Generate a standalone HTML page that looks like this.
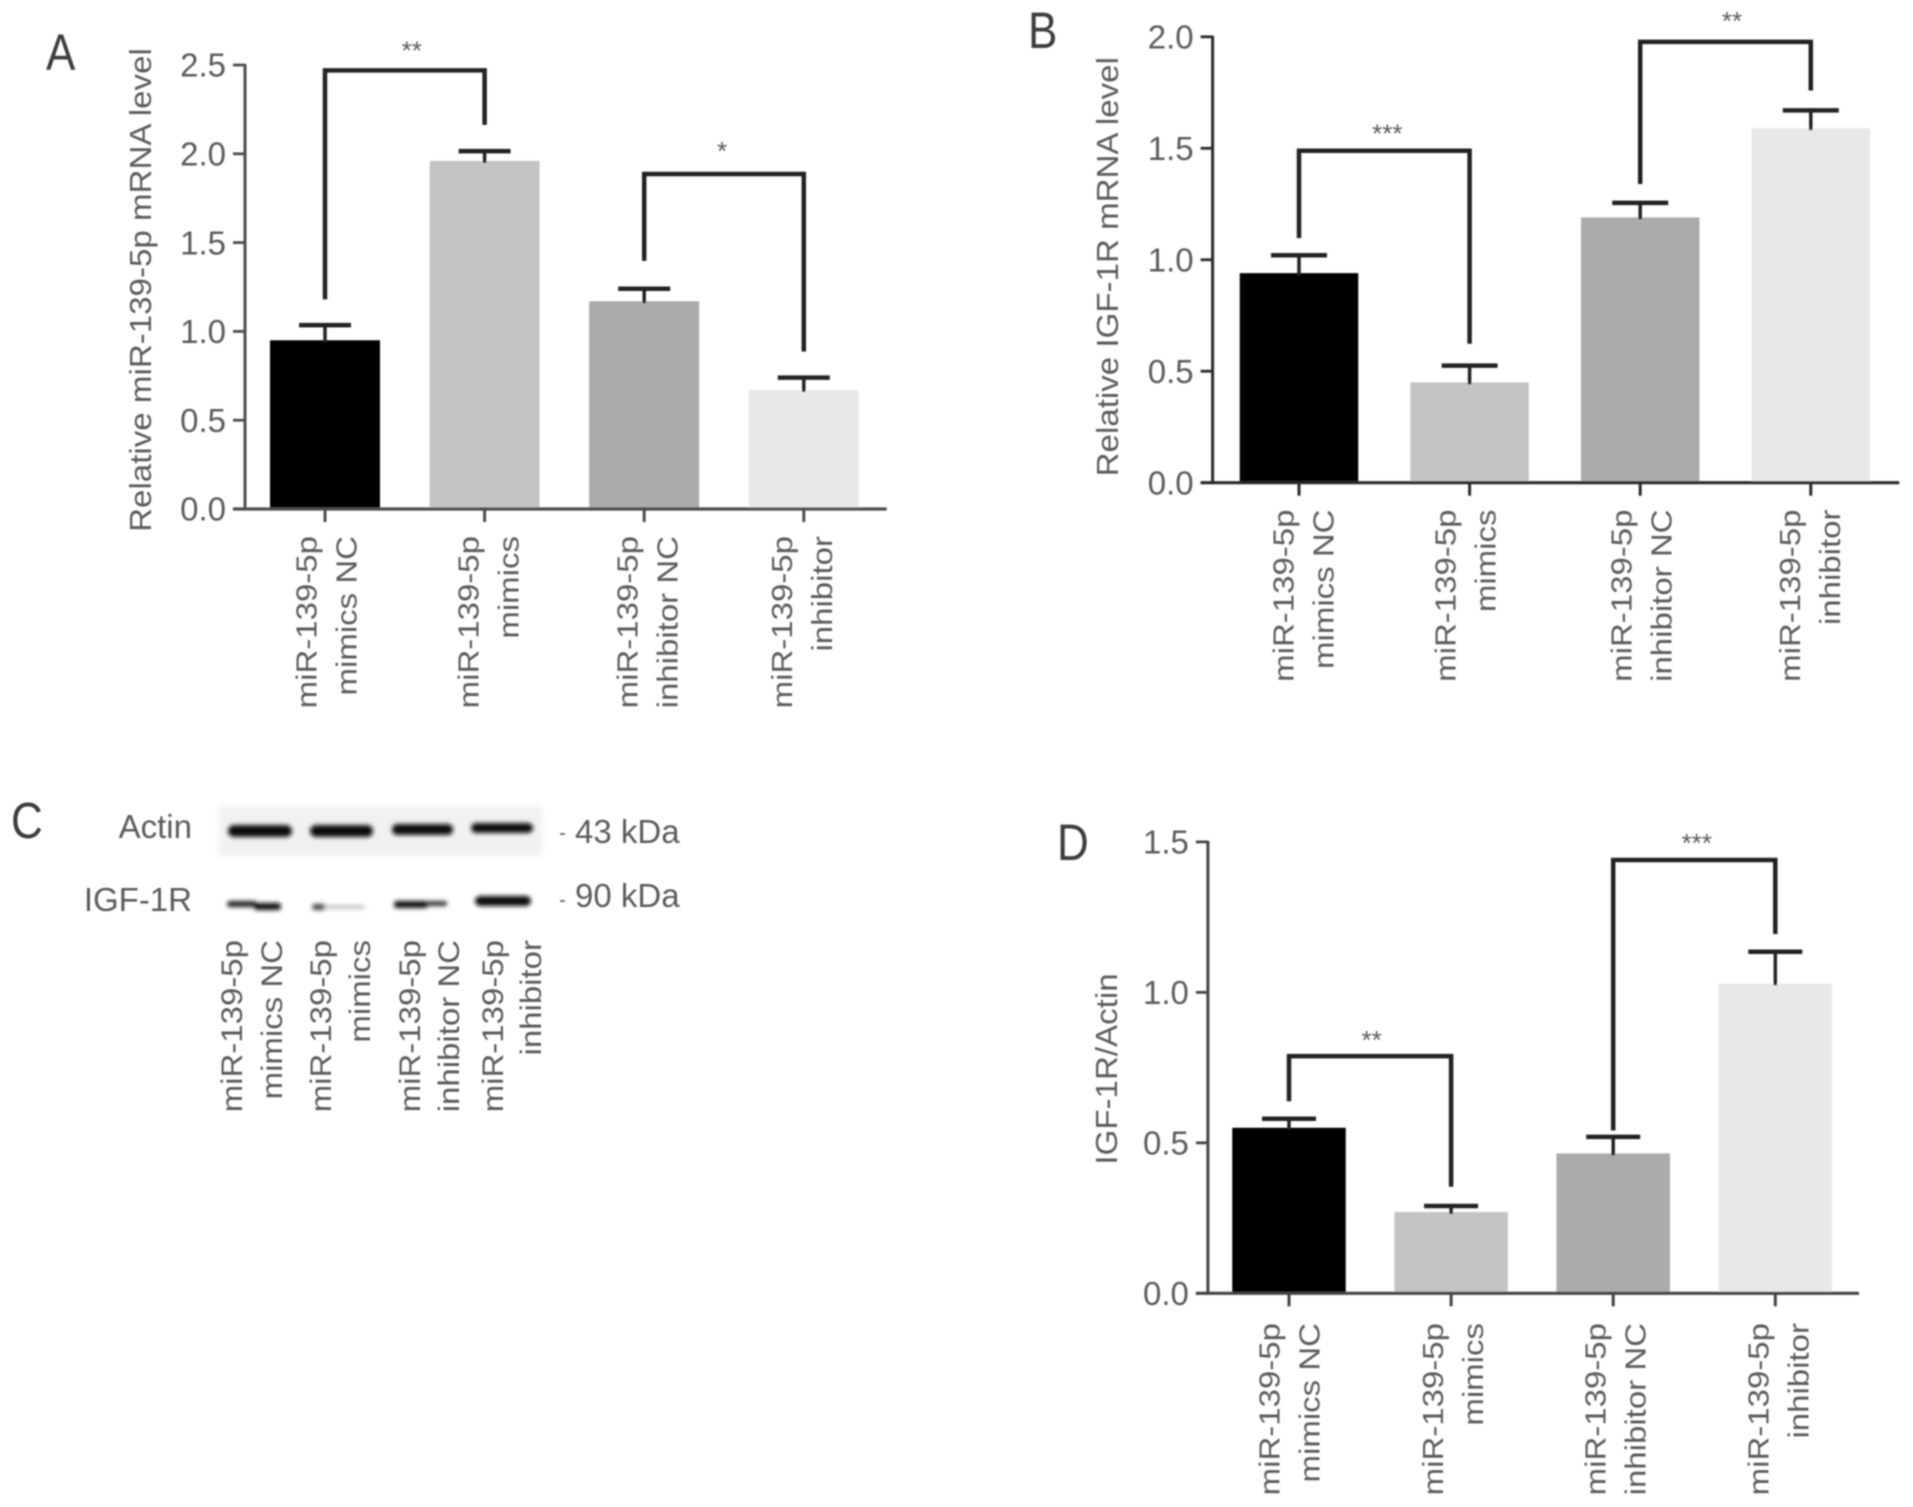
<!DOCTYPE html>
<html lang="en">
<head>
<meta charset="utf-8">
<title>miR-139-5p and IGF-1R expression</title>
<style>
html,body{margin:0;padding:0;background:#fff;}
body{width:1913px;height:1507px;overflow:hidden;}
svg{display:block;}
text{font-family:"Liberation Sans",sans-serif;fill:#5c5c5c;}
.letter{font-size:44px;fill:#3c3c3c;}
.blot-text{font-size:33px;}
.kda{font-size:33px;}
.lane{font-size:33px;}
</style>
</head>
<body>
<svg id="figure" xmlns="http://www.w3.org/2000/svg" width="1913" height="1507" viewBox="0 0 1913 1507">
  <defs>
    <filter id="soft" filterUnits="userSpaceOnUse" x="0" y="0" width="1913" height="1507"><feGaussianBlur stdDeviation="0.8"/></filter>
    <filter id="bandblur" filterUnits="userSpaceOnUse" x="0" y="780" width="720" height="200"><feGaussianBlur stdDeviation="2.2"/></filter>
    <filter id="gelblur" filterUnits="userSpaceOnUse" x="0" y="780" width="720" height="200"><feGaussianBlur stdDeviation="3"/></filter>
  </defs>
  <g id="root" filter="url(#soft)">
    <text class="letter" transform="translate(46,70) scale(1,1.15)">A</text>
    <text class="letter" transform="translate(1028,48) scale(1,1.15)">B</text>
    <text class="letter" transform="translate(11,838) scale(1,1.15)">C</text>
    <text class="letter" transform="translate(1057,860) scale(1,1.15)">D</text>

    <g>
      <rect x="219" y="806" width="323" height="50" fill="#f1f1f1" filter="url(#gelblur)"/>
      <g filter="url(#bandblur)" fill="#0a0a0a">
        <rect x="228" y="825" width="64" height="12" rx="6"/>
        <rect x="310" y="825" width="63" height="12" rx="6"/>
        <rect x="392" y="824" width="61" height="11" rx="5"/>
        <rect x="471" y="823" width="62" height="10" rx="5"/>
      </g>
      <g filter="url(#bandblur)" fill="#0a0a0a">
        <rect x="227" y="901" width="30" height="6" rx="3" fill="#222"/>
        <rect x="254" y="903" width="27" height="7" rx="3"/>
        <rect x="312" y="904" width="14" height="6" rx="3" fill="#444"/>
        <rect x="324" y="905" width="41" height="4" rx="2" fill="#c4c4c4"/>
        <rect x="394" y="901" width="34" height="7" rx="3"/>
        <rect x="426" y="901" width="21" height="5" rx="2" fill="#333"/>
        <rect x="475" y="896" width="56" height="10" rx="5"/>
      </g>
      <text class="blot-text" x="192" y="838" text-anchor="end">Actin</text>
      <text class="blot-text" x="192" y="911" text-anchor="end">IGF-1R</text>
      <rect x="560" y="833" width="5" height="2" fill="#777"/>
      <rect x="560" y="900" width="5" height="2" fill="#777"/>
      <text class="kda" x="575" y="843">43 kDa</text>
      <text class="kda" x="575" y="907">90 kDa</text>
      <g>
        <text class="lane" transform="translate(242,940) rotate(-90) scale(1,0.9)" text-anchor="end">miR-139-5p</text>
        <text class="lane" transform="translate(282,940) rotate(-90) scale(1,0.9)" text-anchor="end">mimics NC</text>
        <text class="lane" transform="translate(331,940) rotate(-90) scale(1,0.9)" text-anchor="end">miR-139-5p</text>
        <text class="lane" transform="translate(370,940) rotate(-90) scale(1,0.9)" text-anchor="end">mimics</text>
        <text class="lane" transform="translate(420,940) rotate(-90) scale(1,0.9)" text-anchor="end">miR-139-5p</text>
        <text class="lane" transform="translate(459,940) rotate(-90) scale(1,0.9)" text-anchor="end">inhibitor NC</text>
        <text class="lane" transform="translate(503,940) rotate(-90) scale(1,0.9)" text-anchor="end">miR-139-5p</text>
        <text class="lane" transform="translate(541,940) rotate(-90) scale(1,0.9)" text-anchor="end">inhibitor</text>
      </g>
    </g>
  </g>
</svg>
<script>
var categoryLine1 = ['miR-139-5p', 'miR-139-5p', 'miR-139-5p', 'miR-139-5p'];
var categoryLine2 = ['mimics NC', 'mimics', 'inhibitor NC', 'inhibitor'];
var barColors = ['#000000', '#c4c4c4', '#ababab', '#e8e8e8'];

var aValues = [0.95, 1.96, 1.17, 0.67];
var aErrors = [0.085, 0.055, 0.07, 0.07];
var aTicks = ['0.0', '0.5', '1.0', '1.5', '2.0', '2.5'];
var aBracketFrom = [0, 2];
var aBracketTo = [1, 3];
var aBracketTop = [2.47, 1.886];
var aBracketLeftEnd = [1.18, 1.397];
var aBracketRightEnd = [2.163, 0.887];
var aBracketStars = ['**', '*'];

var bValues = [0.94, 0.45, 1.19, 1.59];
var bErrors = [0.08, 0.075, 0.065, 0.08];
var bTicks = ['0.0', '0.5', '1.0', '1.5', '2.0'];
var bBracketFrom = [0, 2];
var bBracketTo = [1, 3];
var bBracketTop = [1.489, 1.977];
var bBracketLeftEnd = [1.097, 1.34];
var bBracketRightEnd = [0.623, 1.759];
var bBracketStars = ['***', '**'];

var dValues = [0.55, 0.27, 0.465, 1.03];
var dErrors = [0.03, 0.02, 0.055, 0.105];
var dTicks = ['0.0', '0.5', '1.0', '1.5'];
var dBracketFrom = [0, 2];
var dBracketTo = [1, 3];
var dBracketTop = [0.788, 1.44];
var dBracketLeftEnd = [0.638, 0.541];
var dBracketRightEnd = [0.354, 1.194];
var dBracketStars = ['**', '***'];

var NS = 'http://www.w3.org/2000/svg';
var root = document.getElementById('root');

function make(tag, parent, attrs, content) {
  var node = document.createElementNS(NS, tag);
  for (var k in attrs) { node.setAttribute(k, attrs[k]); }
  if (content !== undefined) { node.textContent = content; }
  parent.appendChild(node);
  return node;
}

function drawPanel(p) {
  var inkColor = '#222';
  var tickMax = parseFloat(p.ticks[p.ticks.length - 1]);
  function yScale(v) { return p.y0 - (p.y0 - p.yTop) * v / tickMax; }
  function xScale(i) { return p.c0 + i * p.step; }
  var el;

  var g = make('g', root, {});
  
  

  p.values.forEach(function (v, i) {
    el = make('rect', g, { x: xScale(i) - p.barWidth / 2, y: yScale(v), width: p.barWidth, height: p.y0 - yScale(v), fill: barColors[i] });
    
    

    var top = yScale(v + p.errors[i]);
    el = make('line', g, { x1: xScale(i), x2: xScale(i), y1: top, y2: yScale(v) + 2, stroke: inkColor, 'stroke-width': 3.5 });
    
    

    el = make('line', g, { x1: xScale(i) - p.capHalf, x2: xScale(i) + p.capHalf, y1: top, y2: top, stroke: inkColor, 'stroke-width': 4.5 });
    
    
  });

  el = make('line', g, { x1: p.axisX, x2: p.axisX, y1: p.yTop - 1, y2: p.y0 + 1, stroke: p.axisColor, 'stroke-width': 3 });
  
  

  el = make('line', g, { x1: p.axisX - 12, x2: p.xEnd, y1: p.y0, y2: p.y0, stroke: p.axisColor, 'stroke-width': 3.2 });
  
  

  p.ticks.forEach(function (label) {
    var ty = yScale(parseFloat(label));
    el = make('line', g, { x1: p.axisX - 12, x2: p.axisX, y1: ty, y2: ty, stroke: p.axisColor, 'stroke-width': 2.8 });
    
    

    el = make('text', g, { x: p.axisX - 19, y: ty + 11.7, 'text-anchor': 'end', 'font-size': 33 }, label);
    
    
  });

  categoryLine1.forEach(function (line1, i) {
    var cx = xScale(i);
    var baseline = cx + p.labelShift[i];
    el = make('line', g, { x1: cx, x2: cx, y1: p.y0, y2: p.y0 + 13, stroke: p.axisColor, 'stroke-width': 3 });
    
    

    el = make('text', g, { transform: 'translate(' + baseline + ',' + p.labelTop + ') rotate(-90) scale(1,0.88)', 'text-anchor': 'end', 'font-size': 33 }, line1);
    
    

    el = make('text', g, { transform: 'translate(' + (baseline + 40) + ',' + p.labelTop + ') rotate(-90) scale(1,0.88)', 'text-anchor': 'end', 'font-size': 33 }, categoryLine2[i]);
    
    
  });

  el = make('text', g, { transform: 'translate(' + p.titleX + ',' + p.titleY + ') rotate(-90) scale(1,0.92)', 'text-anchor': 'middle', 'font-size': 33.1 }, p.title);
  
  

  p.bracketTop.forEach(function (t, b) {
    var xl = xScale(p.bracketFrom[b]);
    var xr = xScale(p.bracketTo[b]);
    var yt = yScale(t);
    var d = 'M' + xl + ' ' + yScale(p.bracketLeftEnd[b]) + ' L' + xl + ' ' + yt + ' L' + xr + ' ' + yt + ' L' + xr + ' ' + yScale(p.bracketRightEnd[b]);
    el = make('path', g, { d: d, fill: 'none', stroke: inkColor, 'stroke-width': 4.5 });
    
    

    el = make('text', g, { x: (xl + xr) / 2 + p.starShift[b], y: yt - p.starLift[b], 'text-anchor': 'middle', 'font-size': 26 }, p.bracketStars[b]);
    
    
  });
}

drawPanel({
  id: 'a', title: 'Relative miR-139-5p mRNA level', axisColor: '#4e4e4e',
  values: aValues, errors: aErrors, ticks: aTicks,
  bracketFrom: aBracketFrom, bracketTo: aBracketTo, bracketTop: aBracketTop,
  bracketLeftEnd: aBracketLeftEnd, bracketRightEnd: aBracketRightEnd, bracketStars: aBracketStars,
  axisX: 245, yTop: 65, y0: 509, xEnd: 886.7, c0: 325, step: 159.6, barWidth: 110, capHalf: 26,
  labelTop: 536, labelShift: [-8.3, -6, -6.6, -11.6], titleX: 151, titleY: 290,
  starShift: [7, -2], starLift: [11, 14]
});

drawPanel({
  id: 'b', title: 'Relative IGF-1R mRNA level', axisColor: '#2a2a2a',
  values: bValues, errors: bErrors, ticks: bTicks,
  bracketFrom: bBracketFrom, bracketTo: bBracketTo, bracketTop: bBracketTop,
  bracketLeftEnd: bBracketLeftEnd, bracketRightEnd: bBracketRightEnd, bracketStars: bBracketStars,
  axisX: 1212.6, yTop: 36.8, y0: 482.7, xEnd: 1899.3, c0: 1299, step: 170.6, barWidth: 118.5, capHalf: 28,
  labelTop: 509.5, labelShift: [-5.7, -14.3, -8.6, -11], titleX: 1118, titleY: 266.7,
  starShift: [3, 6.5], starLift: [8, 12]
});

drawPanel({
  id: 'd', title: 'IGF-1R/Actin', axisColor: '#444444',
  values: dValues, errors: dErrors, ticks: dTicks,
  bracketFrom: dBracketFrom, bracketTo: dBracketTo, bracketTop: dBracketTop,
  bracketLeftEnd: dBracketLeftEnd, bracketRightEnd: dBracketRightEnd, bracketStars: dBracketStars,
  axisX: 1207.9, yTop: 841.9, y0: 1293.3, xEnd: 1859, c0: 1289, step: 162.1, barWidth: 113.5, capHalf: 27,
  labelTop: 1323, labelShift: [-9.7, -8, -7.7, -6.7], titleX: 1117, titleY: 1069,
  starShift: [1.6, 2.5], starLift: [7, 8]
});
</script>
</body>
</html>
